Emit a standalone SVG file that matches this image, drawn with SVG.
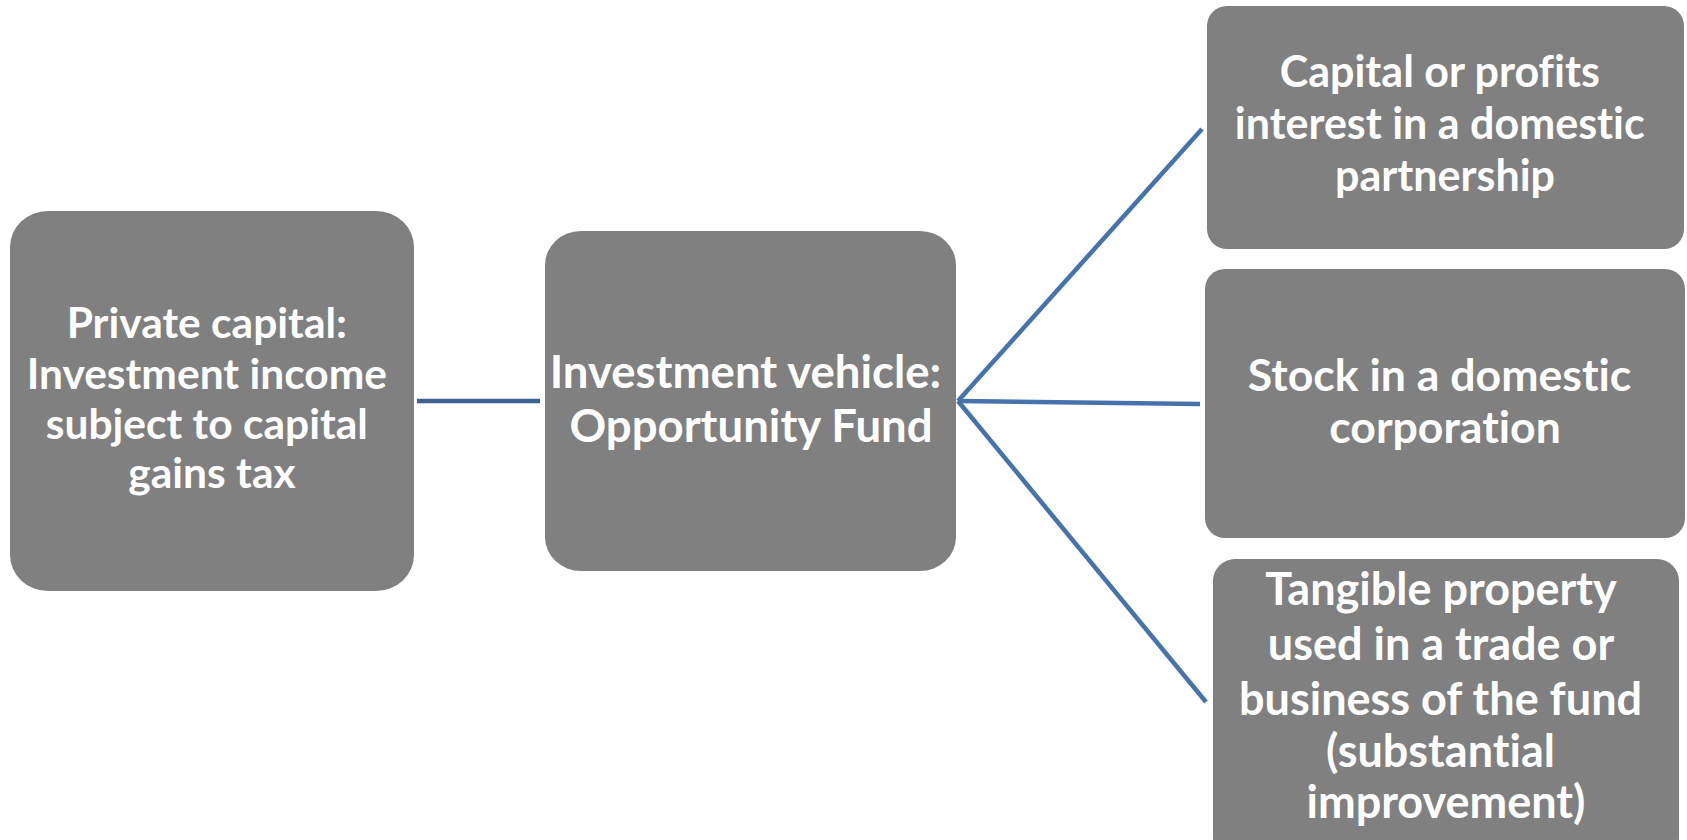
<svg xmlns="http://www.w3.org/2000/svg" width="1687" height="840" viewBox="0 0 1687 840">
  <style>
    .box { fill: #808080; }
    .lbl { font-family: Lato, "Liberation Sans", sans-serif; font-weight: 700; fill: #ffffff; text-anchor: middle; font-variant-ligatures: none; }
    .link { stroke: #4673ac; stroke-width: 4.5; fill: none; stroke-linecap: butt; }
  </style>
  <rect width="1687" height="840" fill="#ffffff"/>

  <!-- connectors -->
  <g id="connectors">
    <line class="link" x1="417" y1="401" x2="540" y2="401" style="stroke:#3e6393"/>
    <line class="link" x1="958" y1="401" x2="1202" y2="129"/>
    <line class="link" x1="958" y1="401" x2="1200" y2="404"/>
    <line class="link" x1="958" y1="401" x2="1206" y2="702"/>
  </g>

  <g id="private-capital">
    <rect class="box" x="10" y="211" width="404" height="380" rx="38" ry="36"/>
    <text class="lbl" font-size="42.5">
      <tspan x="212" y="338">Private capital:</tspan>
      <tspan x="212" y="389">Investment income</tspan>
      <tspan x="212" y="439">subject to capital</tspan>
      <tspan x="212" y="488">gains tax</tspan>
    </text>
  </g>

  <g id="opportunity-fund">
    <rect class="box" x="545" y="231" width="411" height="340" rx="36" ry="34"/>
    <text class="lbl" font-size="45.5">
      <tspan x="751" y="388">Investment vehicle:</tspan>
      <tspan x="751" y="442">Opportunity Fund</tspan>
    </text>
  </g>

  <g id="partnership-interest">
    <rect class="box" x="1207" y="6" width="477" height="243" rx="20"/>
    <text class="lbl" font-size="43">
      <tspan x="1445" y="87">Capital or profits</tspan>
      <tspan x="1445" y="139">interest in a domestic</tspan>
      <tspan x="1445" y="191">partnership</tspan>
    </text>
  </g>

  <g id="corporate-stock">
    <rect class="box" x="1205" y="269" width="480" height="269" rx="20"/>
    <text class="lbl" font-size="44.6">
      <tspan x="1445" y="391">Stock in a domestic</tspan>
      <tspan x="1445" y="443">corporation</tspan>
    </text>
  </g>

  <g id="tangible-property">
    <rect class="box" x="1213" y="559" width="466" height="300" rx="22"/>
    <text class="lbl" font-size="45">
      <tspan x="1446" y="605">Tangible property</tspan>
      <tspan x="1446" y="660">used in a trade or</tspan>
      <tspan x="1446" y="715">business of the fund</tspan>
      <tspan x="1446" y="767">(substantial</tspan>
      <tspan x="1446" y="818">improvement)</tspan>
    </text>
  </g>
</svg>
